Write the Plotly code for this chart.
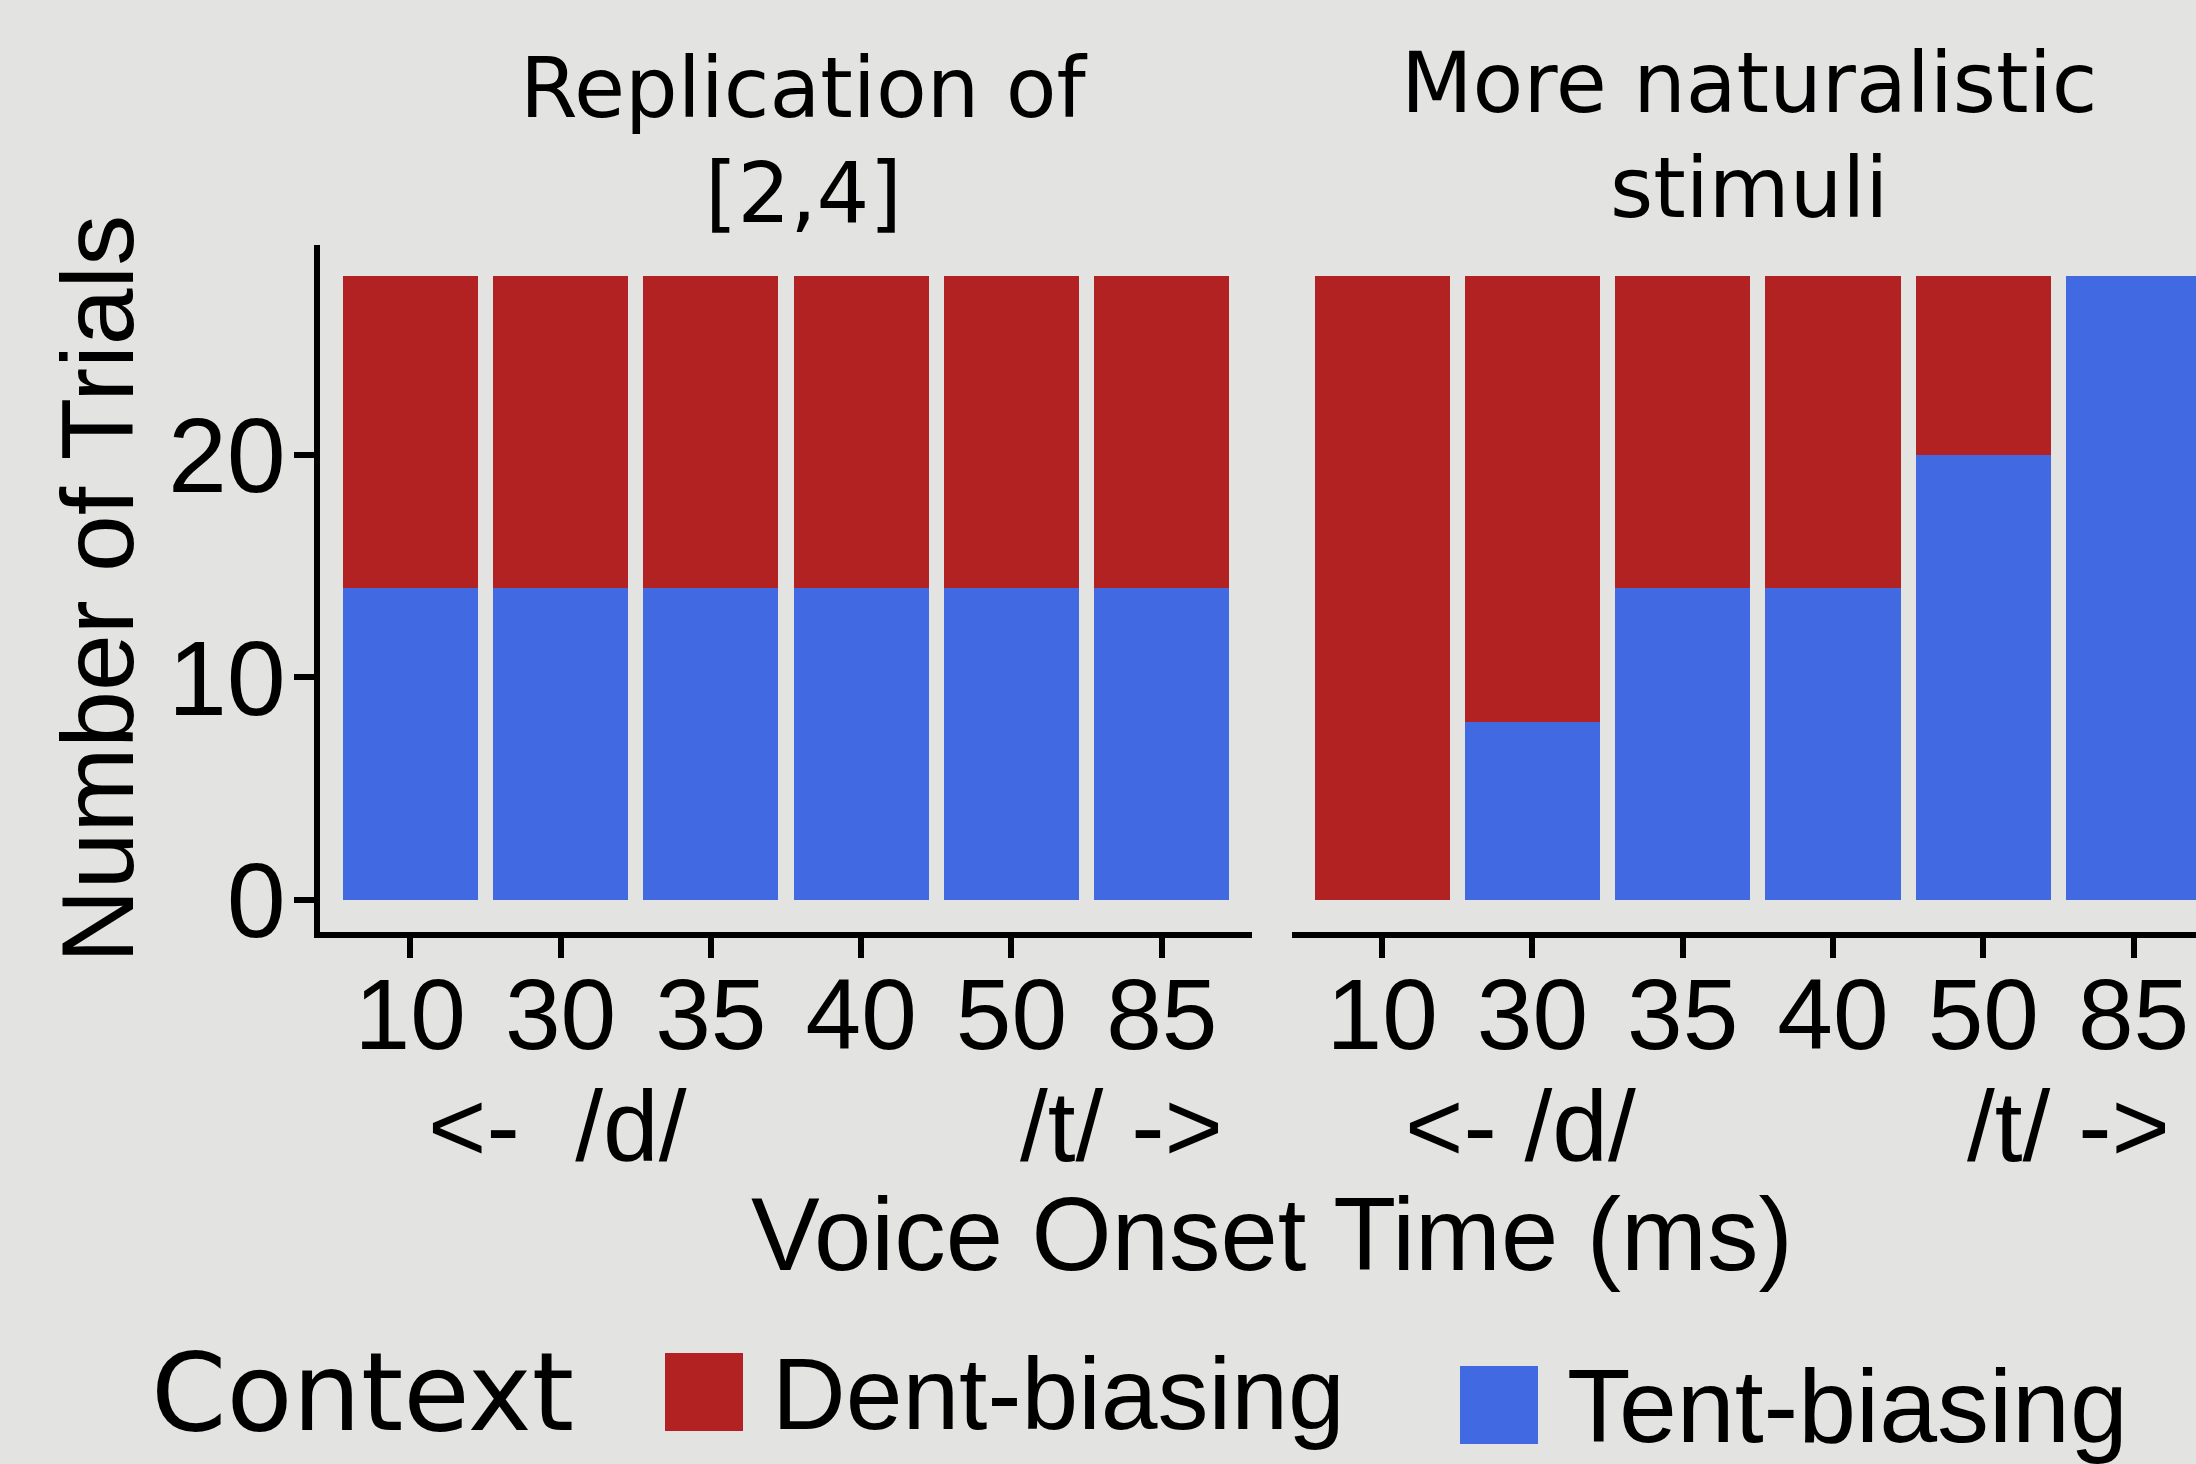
import plotly.graph_objects as go

# ---- data ----
vot_labels = ["10", "30", "35", "40", "50", "85"]
panel_titles = ["Replication of<br>[2,4]", "More naturalistic<br>stimuli"]
rep_tent = [14, 14, 14, 14, 14, 14]
rep_dent = [14, 14, 14, 14, 14, 14]
nat_tent = [0, 8, 14, 14, 20, 28]
nat_dent = [28, 20, 14, 14, 8, 0]
y_ticks = [0, 10, 20]

RED = "#B22222"
BLUE = "#4169E1"
BG = "#E3E3E1"
W, H = 2196, 1464
SANS = "Liberation Sans, Arial, sans-serif"
DEJAVU = "DejaVu Sans, sans-serif"

xpos = list(range(len(vot_labels)))

fig = go.Figure()
for xa, ya, tent, dent in [("x", "y", rep_tent, rep_dent), ("x2", "y2", nat_tent, nat_dent)]:
    fig.add_trace(go.Bar(x=xpos, y=tent, width=0.9, marker=dict(color=BLUE, line=dict(width=0)),
                         name="Tent-biasing", xaxis=xa, yaxis=ya, showlegend=False))
    fig.add_trace(go.Bar(x=xpos, y=dent, width=0.9, marker=dict(color=RED, line=dict(width=0)),
                         name="Dent-biasing", xaxis=xa, yaxis=ya, showlegend=False))

def px(v):
    return v / W

def py(v):
    return 1 - v / H

ydom = [py(931.5), py(245)]
common_x = dict(tickvals=xpos, ticktext=vot_labels, showline=True, linecolor="black", linewidth=6,
                ticks="outside", ticklen=20, tickwidth=6, tickcolor="black", ticklabelstandoff=-29,
                tickfont=dict(family=SANS, size=100, color="black"), showgrid=False, zeroline=False,
                fixedrange=True, automargin=False)

fig.update_layout(
    width=W, height=H, autosize=False,
    margin=dict(l=0, r=0, t=0, b=0, pad=0, autoexpand=False),
    paper_bgcolor=BG, plot_bgcolor=BG,
    barmode="stack",
    showlegend=False,
    xaxis=dict(domain=[px(320), px(1252)], range=[-0.6, 5.6], anchor="y", **common_x),
    xaxis2=dict(domain=[px(1292), 1.0], range=[-0.6, (W - 1382) / 150.3], anchor="y2", **common_x),
    yaxis=dict(domain=ydom, range=[-1.4, 29.4], tickvals=y_ticks, showline=True, linecolor="black",
               linewidth=6, ticks="outside", ticklen=20, tickwidth=6, tickcolor="black",
               ticklabelstandoff=-13, automargin=False,
               tickfont=dict(family=SANS, size=106, color="black"), showgrid=False, zeroline=False,
               anchor="x"),
    yaxis2=dict(domain=ydom, range=[-1.4, 29.4], showticklabels=False, showline=False, ticks="",
                showgrid=False, zeroline=False, anchor="x2", matches="y", automargin=False),
)

ann = []
# facet titles
for i, (cx, b1, b2) in enumerate([(803, 117, 222), (1749, 112, 217)]):
    l1, l2 = panel_titles[i].split("<br>")
    for txt, base in [(l1, b1), (l2, b2)]:
        ann.append(dict(text=txt, x=px(cx), y=py(base - 0.346 * 83), xref="paper", yref="paper",
                        xanchor="center", yanchor="middle", showarrow=False,
                        font=dict(family=DEJAVU, size=83, color="black")))

# direction labels under ticks
for txt, x0, anchor in [("<-&nbsp;&nbsp;/d/", 426, "left"), ("/t/ ->", 1225, "right"),
                        ("<- /d/", 1403, "left"), ("/t/ ->", 2172, "right")]:
    ann.append(dict(text=txt, x=px(x0), y=py(1161 - 34.6), xref="paper", yref="paper",
                    xanchor=anchor, yanchor="middle", showarrow=False,
                    font=dict(family=SANS, size=100, color="black")))

# axis titles
ann.append(dict(text="Voice Onset Time (ms)", x=px(1272), y=py(1270 - 35.6), xref="paper", yref="paper",
                xanchor="center", yanchor="middle", showarrow=False,
                font=dict(family=SANS, size=103, color="black")))
ann.append(dict(text="Number of Trials", x=px(98), y=py(589), xref="paper", yref="paper",
                xanchor="center", yanchor="middle", textangle=-90, showarrow=False,
                font=dict(family=SANS, size=102, color="black")))

# legend
ann.append(dict(text="Context", x=px(149), y=py(1430 - 0.346 * 108), xref="paper", yref="paper",
                xanchor="left", yanchor="middle", showarrow=False,
                font=dict(family=DEJAVU, size=108, color="black")))
ann.append(dict(text="Dent-biasing", x=px(770), y=py(1429 - 35.3), xref="paper", yref="paper",
                xanchor="left", yanchor="middle", showarrow=False,
                font=dict(family=SANS, size=102, color="black")))
ann.append(dict(text="Tent-biasing", x=px(1565), y=py(1442 - 36), xref="paper", yref="paper",
                xanchor="left", yanchor="middle", showarrow=False,
                font=dict(family=SANS, size=104, color="black")))

shapes = [
    dict(type="rect", xref="paper", yref="paper", x0=px(665), x1=px(743), y0=py(1431), y1=py(1353),
         fillcolor=RED, line=dict(width=0)),
    dict(type="rect", xref="paper", yref="paper", x0=px(1460), x1=px(1538), y0=py(1444), y1=py(1366),
         fillcolor=BLUE, line=dict(width=0)),
]

fig.update_layout(annotations=ann, shapes=shapes)
fig.write_html("out.html", config={"responsive": False, "displayModeBar": False})
